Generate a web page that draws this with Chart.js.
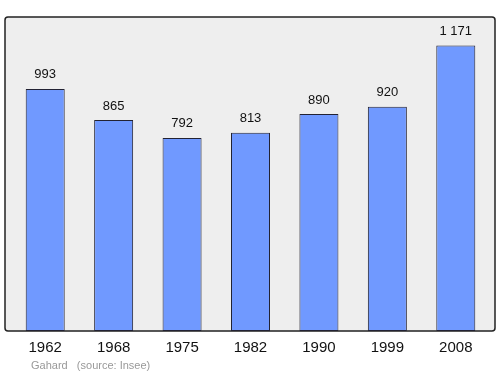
<!DOCTYPE html>
<html>
<head>
<meta charset="utf-8">
<script src="https://cdn.jsdelivr.net/npm/chart.js@4"></script>
<style>
  html, body { margin: 0; padding: 0; background: #fff; }
  #wrap { position: relative; width: 500px; height: 374px; }
  #footer {
    position: absolute; left: 31px; top: 359px;
    font: 11px "Liberation Sans", Arial, sans-serif; color: #999;
    white-space: pre;
  }
</style>
</head>
<body>
<div id="wrap">
  <canvas id="chart" width="500" height="374"></canvas>
  <div id="footer">Gahard   (source: Insee)</div>
</div>
<script>
const years = ["1962", "1968", "1975", "1982", "1990", "1999", "2008"];
const population = [993, 865, 792, 813, 890, 920, 1171];

function fmt(v) {
  return String(v).replace(/\B(?=(\d{3})+(?!\d))/g, " ");
}

// grey frame behind the bars
const frame = {
  id: "frame",
  beforeDatasetsDraw(chart) {
    const { ctx, chartArea: a } = chart;
    const x = a.left - 6, y = a.top, w = a.right - a.left + 11, h = a.bottom - a.top;
    ctx.save();
    ctx.beginPath();
    ctx.roundRect(x, y, w, h, 3);
    ctx.fillStyle = "#eeeeee";
    ctx.fill();
    ctx.lineWidth = 1.5;
    ctx.strokeStyle = "#222";
    ctx.stroke();
    ctx.restore();
  },
};

// numbers above the bars
const valueLabels = {
  id: "valueLabels",
  afterDatasetsDraw(chart) {
    const { ctx } = chart;
    const meta = chart.getDatasetMeta(0);
    ctx.save();
    ctx.font = '13px "Liberation Sans", Arial, sans-serif';
    ctx.fillStyle = "#111";
    ctx.textAlign = "center";
    ctx.textBaseline = "middle";
    meta.data.forEach((bar, i) => {
      ctx.fillText(fmt(population[i]), bar.x, bar.y - 14);
    });
    ctx.restore();
  },
};

new Chart(document.getElementById("chart"), {
  type: "bar",
  data: {
    labels: years,
    datasets: [
      {
        data: population,
        backgroundColor: "#7099ff",
        borderColor: "#223",
        borderWidth: 1,
        borderSkipped: false,
        categoryPercentage: 1,
        barPercentage: 0.57,
      },
    ],
  },
  options: {
    responsive: false,
    animation: false,
    layout: { padding: { left: 11, right: 10, top: 17, bottom: 17 } },
    plugins: { legend: { display: false }, tooltip: { enabled: false } },
    scales: {
      x: {
        grid: { display: false },
        border: { display: false },
        ticks: {
          color: "#111",
          padding: 0,
          font: { family: '"Liberation Sans", Arial, sans-serif', size: 15 },
        },
      },
      y: { display: false, min: 0, max: 1288 },
    },
  },
  plugins: [frame, valueLabels],
});
</script>
</body>
</html>
